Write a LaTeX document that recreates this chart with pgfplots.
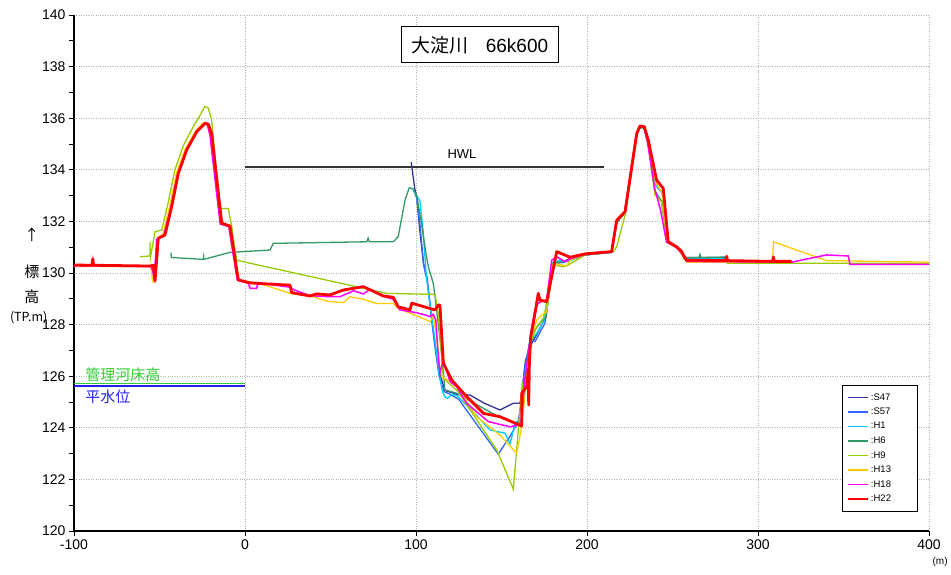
\documentclass[border=0pt]{standalone}
\usepackage{pgfplots}
\pgfplotsset{compat=1.18}
\usepackage{fontspec}
\setmainfont{Liberation Sans}
\newfontfamily\jp{Noto Sans CJK JP}
\definecolor{cS47}{HTML}{333399}
\definecolor{cS57}{HTML}{3366FF}
\definecolor{cH1}{HTML}{00CCFF}
\definecolor{cH6}{HTML}{339966}
\definecolor{cH9}{HTML}{99CC00}
\definecolor{cH13}{HTML}{FFCC00}
\definecolor{cH18}{HTML}{FF00FF}
\definecolor{cH22}{HTML}{FF0000}
\definecolor{cKanri}{HTML}{33CC33}
\definecolor{cHeisui}{HTML}{2222EE}
\begin{document}
\begin{tikzpicture}
\begin{axis}[
  scale only axis, width=855pt, height=516pt,
  xmin=-100, xmax=400, ymin=120, ymax=140,
  xtick={-100,0,100,200,300,400},
  ytick={120,122,...,140}, minor ytick={121,123,...,139},
  axis x line*=bottom, axis y line*=left,
  grid=major, major grid style={black!30, dotted, line width=0.9pt},
  tick align=outside, major tick length=5pt, minor tick length=5pt,
  tick style={black, line width=0.8pt},
  axis line style={black, line width=1.3pt},
  ticklabel style={font=\fontsize{14}{14}\selectfont},
  /pgf/number format/assume math mode=true,
  clip=false,
  legend cell align=left,
  legend style={at={(rel axis cs:0.898,0.283)}, anchor=north west,
    font=\fontsize{9.5}{9.5}\selectfont, draw=black, line width=0.8pt,
    row sep=2.4pt, inner xsep=4pt, inner ysep=6pt},
  legend image code/.code={\draw[#1] (0pt,0pt) -- (20pt,0pt);},
]
% reference lines (no legend)
\addplot[cKanri, line width=1.3pt, forget plot] coordinates {(-100,125.72) (0,125.72)};
\addplot[cHeisui, line width=1.3pt, forget plot] coordinates {(-100,125.62) (0,125.62)};
\addplot[black!80, line width=1.2pt, forget plot] coordinates {(0,134.11) (210,134.11)};

% S47
\addplot[cS47, line width=1.3pt] coordinates {
(97.2,134.3) (99.2,133.3) (100.4,132.95) (102,131.8) (104.3,130.4) (106.5,129.8) (108.5,128.6) (110.5,127.5) (113,126.3) (116.9,125.45) (123.8,125.3) (131.6,125.27) (140,124.95) (149.1,124.69) (156.9,124.95) (160.8,124.95) (162,125.4) (164,126.6) (167,127.2) (170.5,127.6) (174.4,128.1) (176,128.3) (180.3,130.35) (186,130.45) (190,130.55) (198.8,130.7) (214.4,130.8) (217.4,131.95) (222.3,132.35) (229.1,135.35) (231,135.65) (233.5,135.6) (235.8,135.1) (240.5,133.4) (244.3,133.1) (247.3,131.2) (252.4,131.0) (255.4,130.8) (257.5,130.6) (281.6,130.6)};
\addlegendentry{\makebox[40pt][l]{:S47}}
% S57
\addplot[cS57, line width=1.3pt] coordinates {
(98.5,133.25) (100.4,132.9) (102.3,131.9) (104.5,130.3) (106.8,129.6) (109,128.3) (111,127.2) (113.5,126.0) (116.5,125.4) (120,125.3) (125,125.1) (148.1,122.98) (154.9,123.66) (159.8,124.24) (161.5,125.0) (163.5,126.3) (166.7,127.4) (169.6,127.34) (175.4,128.05) (180.3,130.38) (186,130.4) (190,130.5) (198.8,130.7) (214.4,130.8) (217.2,131.95) (222,132.35) (229,135.35) (231,135.65) (233.3,135.6) (235.5,135.1) (240.2,133.4) (244,133.1) (247,131.2) (252,131.0) (255,130.8) (257.3,130.55) (281.6,130.55)};
\addlegendentry{:S57}
% H1
\addplot[cH1, line width=1.3pt] coordinates {
(98.4,133.2) (102.3,132.8) (104.2,131.6) (106.0,129.9) (108.5,128.6) (111.1,127.4) (113.5,126.1) (115.5,125.4) (116.9,125.2) (118.5,125.14) (121,125.3) (123.8,125.25) (133.5,124.62) (143.3,123.91) (152.1,123.79) (155,123.37) (158,124.2) (161.8,124.35) (163.5,125.8) (166.5,127.3) (170,127.6) (175,128.15) (180.3,130.4) (184,130.5) (189,130.45) (198.8,130.7) (214.4,130.8) (217.3,131.95) (222.2,132.35) (229,135.35) (231,135.65) (233.4,135.6) (235.6,135.1) (240.3,133.4) (244.1,133.1) (247.1,131.2) (252.2,131.0) (255.2,130.8) (257.4,130.55) (281.6,130.55)};
\addlegendentry{:H1}
% H6
\addplot[cH6, line width=1.3pt] coordinates {
(-43.3,130.79) (-43.1,130.6) (-24.4,130.53) (-24.2,130.63) (-24,130.53) (-8.8,130.8) (14.6,130.89) (16.6,131.15) (71.2,131.21) (72,131.35) (72.8,131.21) (86.7,131.21) (89.6,131.41) (93.6,132.83) (96.1,133.31) (98.4,133.25) (100.4,133.02) (103,132.0) (105.5,130.9) (107.2,130.24) (110.1,129.6) (111.1,129.1) (115.0,126.89) (116.9,125.47) (123.8,125.34) (148.1,124.43) (161.8,124.11) (163,125.3) (166,127.0) (169.6,127.8) (173,128.1) (176,128.3) (180.3,130.4) (188,130.45) (198.8,130.7) (214.4,130.83) (217.4,131.95) (222.3,132.35) (229.1,135.4) (231,135.65) (233.5,135.62) (235.8,135.1) (239.5,133.2) (243.5,132.8) (247,131.2) (252,131.0) (255,130.8) (258,130.6) (265.5,130.6) (266.1,130.72) (266.7,130.6) (281.6,130.62)};
\addlegendentry{:H6}
% H9
\addplot[cH9, line width=1.3pt] coordinates {
(-61.4,130.63) (-55.6,130.66) (-55.6,131.2) (-55.3,130.6) (-52.6,131.6) (-48.7,131.67) (-45,132.7) (-41,134.0) (-36,134.95) (-30,135.7) (-25.5,136.2) (-23.6,136.45) (-21.5,136.4) (-19.5,135.93) (-14.6,132.5) (-9.8,132.5) (-7.9,131.86) (-4.9,130.5) (2.9,130.38) (82.9,129.21) (111.1,129.17) (113,128.44) (116,125.92) (124.7,125.4) (147.2,123.14) (153,122.24) (156.9,121.62) (162.2,125.79) (162.8,125.2) (166.7,127.27) (170.6,127.92) (174.4,128.24) (175.4,128.5) (180.3,130.31) (186.1,130.24) (189.1,130.31) (198.8,130.7) (215.4,130.83) (217.4,131.02) (222.3,132.25) (229.1,135.35) (231,135.65) (233.5,135.6) (235.8,135.0) (239.8,133.02) (243.6,132.76) (247,131.2) (252.2,131.0) (255.2,130.75) (258,130.45) (281.6,130.45) (282,130.38) (400,130.38)};
\addlegendentry{:H9}
% H13
\addplot[cH13, line width=1.3pt] coordinates {
(-100,130.25) (-89.5,130.25) (-89,130.6) (-88.5,130.25) (-55,130.25) (-54,129.65) (-52.5,129.65) (-52,131.3) (-48,131.5) (-44,132.6) (-40,133.9) (-35,134.8) (-29,135.5) (-24.5,135.82) (-22.5,135.8) (-20.5,135.4) (-14.5,131.95) (-9.5,131.85) (-4.5,129.75) (3,129.65) (7.5,129.62) (26.3,129.21) (40,129.08) (45.8,128.95) (49.7,128.89) (57.5,128.85) (61.4,129.08) (69.2,128.98) (77,128.82) (86.7,128.82) (89.6,128.63) (106.2,128.18) (108.2,128.11) (110.1,128.31) (112,127.6) (114,126.3) (115,125.98) (123.8,125.66) (135.4,124.43) (149.1,123.72) (158.9,123.01) (161.8,124.04) (164,125.47) (167.7,127.53) (170.6,128.18) (173.5,128.37) (176.4,128.5) (180.3,130.38) (188.1,130.27) (190.1,130.5) (198.8,130.72) (214.4,130.83) (217,131.98) (222,132.38) (228.9,135.4) (230.8,135.68) (233.3,135.65) (235.6,135.1) (240.2,133.5) (244,133.1) (247,131.2) (252,131.0) (255,130.8) (256.3,130.63) (258.5,130.42) (308.5,130.42) (309,131.21) (340.1,130.48) (400,130.42)};
\addlegendentry{:H13}
% H18
\addplot[cH18, line width=1.5pt] coordinates {
(-100,130.28) (-89.5,130.28) (-89,130.5) (-88.5,130.28) (-55,130.25) (-54,130.1) (-53.2,129.8) (-51.5,131.3) (-47.5,131.45) (-43.5,132.5) (-39.5,133.8) (-34.5,134.75) (-28.5,135.45) (-24,135.78) (-22,135.75) (-20.5,135.35) (-14.5,131.9) (-9.5,131.8) (-4.5,129.72) (2,129.6) (3,129.4) (6.8,129.4) (7.5,129.62) (26.3,129.45) (29,129.34) (38,129.12) (49.7,129.08) (55.5,129.08) (63.5,129.31) (69.2,129.19) (73.3,129.37) (80.9,129.1) (86.7,128.98) (90.5,128.57) (100.4,128.46) (105,128.38) (108.2,128.31) (110.1,128.4) (111.6,128.18) (113,126.8) (114,126.11) (116,126.63) (119.9,125.79) (123.8,125.59) (129.6,124.95) (142.3,124.24) (154.9,124.04) (159.8,124.11) (161.8,124.3) (163.5,125.8) (165.5,126.8) (167.7,127.92) (169.6,128.57) (171.5,128.83) (173.5,128.9) (176.4,128.95) (179.4,130.5) (182.3,130.63) (187.1,130.44) (190.1,130.55) (198.8,130.72) (214.4,130.83) (217,131.98) (222,132.38) (228.8,135.4) (230.8,135.68) (233.2,135.65) (235.3,135.1) (239.5,133.3) (243,132.44) (246.5,131.2) (252,131.0) (255,130.8) (257.3,130.55) (258.3,130.45) (319.7,130.42) (340.1,130.7) (352.8,130.66) (353.8,130.33) (400,130.33)};
\addlegendentry{:H18}
% H22
\addplot[cH22, line width=2.8pt, line join=round] coordinates {
(-100,130.31) (-89.5,130.3) (-89,130.55) (-88.5,130.3) (-55.6,130.27) (-53.6,130.3) (-52.6,129.7) (-50.7,131.35) (-46.8,131.47) (-42.9,132.57) (-39.0,133.86) (-34.1,134.77) (-28.2,135.48) (-23.4,135.8) (-21.5,135.77) (-19.5,135.41) (-13.6,131.93) (-8.8,131.82) (-3.9,129.73) (2.9,129.62) (6.8,129.6) (26.3,129.53) (27.3,129.24) (38.0,129.11) (41.9,129.19) (49.7,129.15) (57.5,129.34) (69.2,129.47) (80.9,129.11) (86.7,129.06) (89.6,128.69) (96.5,128.57) (97.5,128.83) (111.1,128.57) (113.0,128.76) (114.0,128.76) (116.0,126.5) (120.9,125.85) (129.6,125.21) (139.4,124.56) (149.1,124.43) (161.8,124.07) (161.8,125.34) (164.8,125.6) (165.7,126.3) (165.9,124.88) (166.3,126.5) (167.1,127.53) (168.6,128.05) (171.5,129.21) (172.5,128.95) (176.4,128.89) (182.3,130.83) (190.1,130.61) (198.8,130.74) (214.4,130.83) (217.4,132.05) (222.3,132.38) (229.1,135.41) (231.0,135.7) (233.5,135.67) (235.8,135.16) (240.7,133.6) (244.6,133.28) (247.5,131.21) (252.4,131.02) (255.4,130.83) (257.3,130.57) (258.3,130.5) (281.2,130.48) (281.7,130.65) (282.2,130.48) (308.5,130.45) (309,130.62) (309.5,130.45) (319.7,130.45)};
\addlegendentry{:H22}

% texts
\node[font=\fontsize{13}{13}\selectfont] at (axis cs:126.9,134.6) {HWL};
\node[draw=black, line width=1pt, fill=white, inner xsep=10pt, minimum height=36pt, font=\fontsize{19}{19}\selectfont] at (axis cs:137.4,138.84) {{\jp 大淀川}\hspace{0.9em}66k600};
\node[anchor=west, text=cKanri, font=\jp\fontsize{15}{15}\selectfont] at (axis cs:-95.4,126.06) {管理河床高};
\node[anchor=west, text=cHeisui, font=\jp\fontsize{15}{15}\selectfont] at (axis cs:-95.4,125.22) {平水位};
\node[font=\jp\fontsize{15}{15}\selectfont] at (axis cs:-124.6,131.49) {↑};
\node[font=\jp\fontsize{15}{15}\selectfont] at (axis cs:-124.6,130.05) {標};
\node[font=\jp\fontsize{15}{15}\selectfont] at (axis cs:-124.6,129.08) {高};
\node[font=\jp\fontsize{12.5}{12.5}\selectfont] at (axis cs:-126.5,128.26) {(TP.m)};
\node[font=\fontsize{10}{10}\selectfont] at (axis cs:406.5,118.8) {(m)};
\end{axis}
\pgfresetboundingbox
\path (-74pt,-43pt) rectangle (877pt,531pt);
\end{tikzpicture}
\end{document}
